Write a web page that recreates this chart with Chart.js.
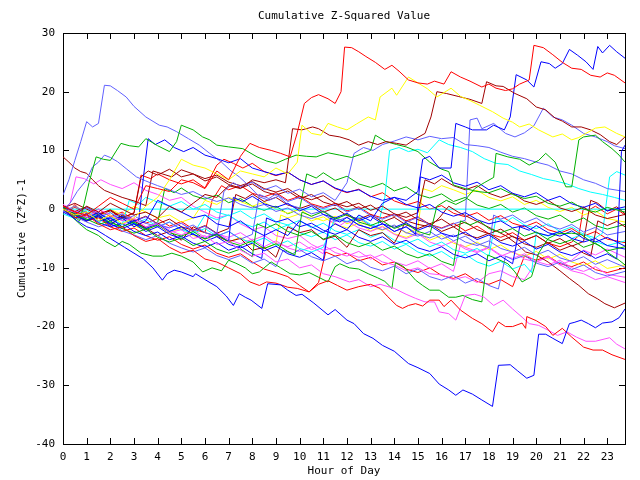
<!DOCTYPE html>
<html>
<head>
<meta charset="utf-8">
<script src="https://cdn.jsdelivr.net/npm/chart.js@4.4.1/dist/chart.umd.min.js"></script>
<style>
html,body{margin:0;padding:0;background:#fff;}
#wrap{width:640px;height:480px;}
</style>
</head>
<body>
<div id="wrap"><canvas id="c" width="640" height="480"></canvas></div>
<script>
// ---- labels ----
const chartTitle = "Cumulative Z-Squared Value";
const xTitle = "Hour of Day";
const yTitle = "Cumulative (Z*Z)-1";
const xTicks = [0,1,2,3,4,5,6,7,8,9,10,11,12,13,14,15,16,17,18,19,20,21,22,23];
const yTicks = [-40,-30,-20,-10,0,10,20,30];
const xMax = 23.75;

// ---- series: [hour, cumulative value] ----
const redTop = [[0,0.5],[0.5,-0.5],[1,-1],[1.5,0.5],[2,2],[2.5,1],[3,0],[3.5,4],[4,3.5],[4.5,3],[5,5],[5.5,4.5],[6,3.5],[6.5,6.5],[7,5],[7.5,9],[7.9,11.2],[8.3,10.5],[8.8,10],[9.2,9.5],[9.6,8.9],[9.9,13],[10.2,18],[10.5,19],[10.8,19.5],[11.2,18.8],[11.5,18],[11.75,20],[11.9,27.6],[12.2,27.5],[12.5,26.8],[12.8,26],[13.2,25],[13.6,23.8],[13.9,24.5],[14.2,23.5],[14.6,22],[15,21.5],[15.4,21.3],[15.7,21.8],[16.1,21.3],[16.4,23.4],[16.8,22.5],[17.2,21.8],[17.7,20.8],[18,21.3],[18.3,20.6],[18.7,20.2],[19,20.5],[19.3,21.3],[19.7,22],[19.9,27.9],[20.3,27.5],[20.7,26.3],[21.1,25],[21.5,24],[21.9,23.8],[22.3,22.8],[22.7,22.5],[23,23.2],[23.3,22.8],[23.75,21.5]];
const yellowTop = [[0,0],[0.5,-1],[1,-0.5],[1.5,-2],[2,-1],[2.5,-2.5],[3,-1.5],[3.5,0.5],[4,2],[4.5,5],[5,8.5],[5.5,7.5],[6,7],[6.5,6],[7,5],[7.5,6.5],[8,6],[8.5,5.5],[9,7],[9.5,6],[9.9,8],[10.1,14.3],[10.5,12.9],[10.9,12.6],[11.2,14.6],[11.6,14],[12,13.5],[12.4,14.5],[12.9,15.7],[13.2,15.2],[13.4,19.1],[13.9,20.6],[14.1,19.4],[14.6,22.5],[15,21.5],[15.4,20.5],[15.8,19.1],[16,19.6],[16.4,20.6],[16.8,19.2],[17.2,18.5],[17.6,17.7],[18.15,16.6],[18.6,15.5],[19,14.8],[19.3,14],[19.7,14.5],[20.1,13.5],[20.7,12.3],[21.1,12.8],[21.5,11.8],[21.8,12.2],[22.1,12.9],[22.5,13.8],[22.9,14],[23.4,12.9],[23.75,12.3]];
const darkRedTop = [[0,0],[0.5,-1],[1,0.5],[1.5,-0.5],[2,1],[2.5,0],[3,-1],[3.5,-0.5],[4,-1.5],[4.5,0.5],[5,-0.5],[5.5,1],[6,2.5],[6.5,2],[7,4],[7.5,3.5],[8,5],[8.5,4.5],[9,5],[9.4,4.5],[9.7,13.7],[10.1,13.5],[10.55,14],[10.8,13.7],[11.25,12.6],[11.7,12.3],[12.1,11.8],[12.5,10.9],[12.9,11.5],[13.3,11],[13.65,11.5],[14.1,11.2],[14.5,10.9],[14.9,12],[15.3,12.9],[15.55,15.7],[15.8,20],[16.2,19.7],[16.7,19.2],[17.2,18.7],[17.7,18],[17.9,21.7],[18.3,21],[18.6,20.9],[19.1,19.7],[19.6,18.8],[20,17.4],[20.4,16.9],[20.8,15.5],[21.1,15],[21.5,14],[21.9,14],[22.3,13.5],[22.7,12.7],[23.1,11.5],[23.4,11],[23.75,12.3]];
const blueTop = [[0,0],[0.5,-1],[1,-2],[1.5,-1],[2,-2.5],[2.5,-1.5],[3,-3],[3.5,-2],[4,1.5],[4.5,0.5],[5,-0.5],[5.5,-1.5],[6,-1],[6.5,-2.5],[7,-3],[7.5,-2],[8,-3.5],[8.5,-4.5],[9,-3.5],[9.5,-4.5],[10,-2],[10.5,-3],[11,-4],[11.5,-2.5],[12,-3.5],[12.5,-1],[13,-2],[13.5,1],[14,2],[14.5,1.5],[15,3],[15.2,8.5],[15.5,9],[15.9,7],[16.4,7],[16.6,14.6],[17,14],[17.3,13.5],[17.9,13.5],[18.2,14.3],[18.65,13.5],[18.9,15.7],[19.15,22.9],[19.6,22],[19.9,20.8],[20.2,25.1],[20.55,24.8],[20.8,24],[21.1,24.8],[21.4,27.2],[21.75,26.2],[22.1,25.1],[22.4,23.8],[22.6,27.7],[22.8,26.6],[23.1,27.9],[23.4,26.8],[23.75,25.7]];
const blueBottom = [[0,0],[0.3,-1],[0.6,-2],[1,-3],[1.4,-3.5],[1.8,-4.5],[2.2,-5.5],[2.6,-6.5],[3,-7.5],[3.4,-8.5],[3.8,-10],[4.2,-12.1],[4.4,-11],[4.7,-10.4],[5,-10.7],[5.5,-11.5],[5.6,-11],[6,-12],[6.5,-13.2],[6.9,-14.8],[7.2,-16.4],[7.45,-14.4],[7.7,-15],[7.95,-15.5],[8.4,-16.9],[8.65,-12.7],[9.2,-12.9],[9.5,-13.8],[9.85,-14.7],[10.1,-14.5],[10.6,-16],[11.2,-18],[11.5,-17.1],[12,-18.9],[12.3,-19.5],[12.7,-21.2],[13.1,-22],[13.5,-23.2],[14,-24.2],[14.6,-26.3],[15,-27],[15.5,-28],[15.9,-29.8],[16.3,-30.8],[16.6,-31.7],[16.9,-30.8],[17.3,-31.5],[17.7,-32.5],[18.15,-33.6],[18.4,-26.6],[18.9,-26.5],[19.2,-27.5],[19.6,-28.8],[19.9,-28.3],[20.1,-21.3],[20.4,-21.3],[20.7,-22],[21.1,-22.9],[21.4,-19.5],[21.6,-19.3],[21.9,-18.9],[22.2,-19.5],[22.5,-20.2],[22.8,-19.4],[23.2,-19.2],[23.5,-18.5],[23.75,-17]];
const redBottom = [[0,0],[0.5,-1.5],[1,-1],[1.5,-2.5],[2,-3.5],[2.5,-3],[3,-4.5],[3.5,-5.5],[4,-5],[4.5,-6.5],[5,-7.5],[5.5,-7],[6,-8.5],[6.5,-9],[7,-10],[7.5,-11],[7.9,-12.4],[8.3,-13],[8.6,-12.4],[9,-12.6],[9.5,-13.3],[9.9,-13.5],[10.4,-14.1],[10.8,-12.8],[11.2,-12.2],[11.6,-13],[12,-13.8],[12.5,-13.2],[13,-12.8],[13.4,-13.5],[13.7,-14.8],[14.1,-16.4],[14.35,-16.9],[14.6,-16.4],[14.9,-16.1],[15.2,-16.5],[15.5,-15.5],[15.9,-15.5],[16.1,-16.6],[16.4,-15.5],[16.8,-17.2],[17.3,-18.6],[17.7,-19.5],[18.15,-20.9],[18.4,-19.2],[18.7,-20],[19,-20],[19.4,-19.4],[19.55,-20.3],[19.6,-18.3],[20,-19],[20.4,-20],[20.7,-21.5],[21.1,-20.3],[21.5,-21.8],[22,-23.5],[22.4,-24],[22.8,-24],[23.2,-24.8],[23.75,-25.6]];
const magentaBottom = [[0,0],[0.5,-0.5],[1,-1.5],[1.5,0],[2,-1],[2.5,-2],[3,-1.5],[3.5,-3],[4,-2.5],[4.5,-4],[5,-3.5],[5.5,-5],[6,-4.5],[6.5,-6],[7,-5.5],[7.5,-7],[8,-8],[8.5,-7.5],[9,-9],[9.5,-8.5],[10,-10],[10.5,-9.5],[11,-11],[11.5,-11.5],[12.1,-12.4],[12.5,-12],[13,-13.2],[13.4,-12.8],[14,-13.5],[14.5,-14.5],[14.9,-15.2],[15.3,-15.8],[15.7,-15.8],[15.9,-17.5],[16.3,-17.8],[16.6,-18.9],[17,-14.7],[17.4,-14.5],[17.8,-15],[18.2,-16.4],[18.6,-15.5],[19,-17],[19.4,-18.4],[19.7,-19.5],[20.1,-19.8],[20.5,-20.6],[20.9,-21.5],[21.3,-20.9],[21.7,-21.8],[22.1,-22.5],[22.5,-22.5],[23.1,-21.9],[23.4,-23],[23.75,-23.8]];
const greenLow = [[0,0],[0.3,-1],[0.7,-2.5],[1,-3.5],[1.5,-4.5],[1.8,-5.5],[2.2,-6.4],[2.5,-5.5],[2.8,-6],[3.3,-7.5],[3.8,-8],[4.2,-8],[4.6,-7.5],[5,-8],[5.5,-9],[5.9,-10.7],[6.3,-10],[6.7,-10.5],[7,-8.7],[7.3,-9.2],[7.7,-10],[8,-11],[8.3,-10.7],[8.5,-10],[8.8,-9],[9.2,-10],[9.6,-11],[10,-11.2],[10.4,-10.8],[10.8,-11.6],[11.2,-12.4],[11.5,-9.8],[11.7,-9.3],[12.1,-10],[12.5,-10.2],[12.9,-11],[13.3,-11.7],[13.6,-12.3],[13.9,-13.5],[14.05,-9.1],[14.4,-9.8],[14.9,-12.1],[15.2,-13],[15.5,-13.8],[15.9,-13.8],[16.3,-15],[16.6,-15],[16.9,-14.7],[17.3,-15.4],[17.7,-15.8],[17.95,-7.8],[18.3,-8.4],[18.8,-9.3],[19.1,-10.7],[19.4,-12.4],[19.8,-11.5],[20.1,-7.5],[20.5,-5],[20.9,-4.2],[21.5,-4.1],[21.9,-4.3],[22.3,-5.5],[22.7,-6.3],[23.1,-7.6],[23.5,-8.7],[23.75,-9.5]];
const greenMid = [[0,0.5],[0.4,-1],[0.7,-2],[0.9,1],[1.1,4.5],[1.4,8.9],[1.7,8.5],[2,8.3],[2.45,11.2],[2.8,10.8],[3.2,10.6],[3.5,12],[4,10.8],[4.5,9.8],[4.8,11.5],[5,14.3],[5.5,13.5],[5.9,12.3],[6.2,11.8],[6.5,10.9],[7,10.6],[7.6,10.3],[8.2,8.9],[8.6,8.2],[9,7.8],[9.4,8.5],[9.85,9.2],[10.3,9],[10.7,8.9],[11.2,9.6],[11.7,9.2],[12.2,8.8],[12.7,9.5],[13,10],[13.2,12.6],[13.65,11.5],[14.1,11],[14.5,10.6],[15,9.8],[15.5,8],[16,6.8],[16.3,6.4],[16.5,4.1],[17,3.5],[17.5,3],[18,2.8],[18.5,3.5],[19,2.5],[19.5,1.8],[20,2.2],[20.5,1],[21,0.5],[21.5,1.2],[22,0],[22.5,-0.5],[23,0.3],[23.75,-0.5]];
const greenLate = [[0,0],[0.5,-1],[1,-1.8],[1.5,-1],[2,-2.3],[2.5,-3],[3,-2.2],[3.5,-3.5],[4,-2.7],[4.5,-4],[5,-4.6],[5.5,-3.8],[6,-5.1],[6.5,-4.3],[7,-5.6],[7.5,-6.2],[8,-5.4],[8.5,-6.7],[9,-5.9],[9.5,-7.2],[9.8,-7.8],[10.1,-0.5],[10.5,-1.2],[11,-0.4],[11.5,-1.7],[12,-0.9],[12.5,-2.2],[13,-2.8],[13.5,-2],[14,-3.3],[14.5,-2.5],[15,-3.8],[15.5,-4.4],[15.8,0.5],[16.2,1.5],[16.6,0.8],[17,1.6],[17.4,3.5],[17.8,4.5],[18.2,5.4],[18.3,9.5],[18.8,8.9],[19.3,8.5],[19.7,7.5],[20.1,8.3],[20.4,9.5],[20.8,8],[21.25,3.8],[21.5,3.8],[21.8,11.8],[22,12.3],[22.5,12.6],[22.8,11.5],[23.2,10.3],[23.5,9.2],[23.75,8]];
const greenDip = [[0,0.2],[0.5,-0.8],[1,-1.7],[1.5,-2.6],[2,-2],[2.5,-3.3],[3,-4.1],[3.5,-3.4],[4,-4.8],[4.5,-5.6],[5,-4.9],[5.5,-6.2],[6,-5.5],[6.5,-6.8],[7,-7.5],[7.5,-6.8],[8,-8.1],[8.2,-2.5],[8.6,-3.2],[9,-2.5],[9.5,-3.8],[10,-4.5],[10.5,-3.8],[11,-5.1],[11.5,-4.4],[12,-5.7],[12.5,-6.4],[13,-5.7],[13.5,-7],[14,-6.3],[14.5,-7.6],[15,-8.3],[15.5,-7.6],[16,-8.9],[16.5,-9.6],[16.8,-2],[17.2,-2.7],[17.6,-2],[18,-3.3],[18.5,-4],[19,-3.3],[19.5,-4.6],[20,-3.9],[20.5,-5.2],[21,-5.9],[21.5,-5.2],[22,-6.5],[22.5,-5.8],[23,-7.1],[23.75,-6.4]];
const blueEnd = [[0,0.3],[0.5,-0.8],[1,-1.5],[1.5,-0.6],[2,-2],[2.5,-1.2],[3,-2.5],[3.5,-3.3],[4,-2.5],[4.5,-3.8],[5,-3],[5.5,-4.3],[6,-5],[6.5,-4.2],[7,-5.5],[7.2,2],[7.6,1.3],[8,2.2],[8.5,0.9],[9,0.3],[9.5,1],[10,-0.3],[10.5,0.5],[11,-0.9],[11.5,-1.5],[12,-0.7],[12.5,-2],[13,-1.2],[13.5,-2.5],[14,-3.1],[14.5,-2.3],[15,-3.6],[15.5,-2.8],[16,-4.1],[16.5,-4.7],[17,-3.9],[17.5,-5.2],[18,-4.4],[18.5,-5.7],[19,-6.3],[19.5,-5.5],[20,-6.8],[20.5,-6],[21,-7.3],[21.5,-7.9],[22,-7.1],[22.5,-8.4],[23,-7.6],[23.4,-8.5],[23.6,9.8],[23.75,10.9]];
const blueMid = [[0,0],[0.5,-1],[1,-2],[1.5,-1.2],[2,-2.6],[2.5,-3.3],[3,-2.5],[3.5,-3.8],[4,-3],[4.5,-4.3],[5,-5],[5.5,-4.2],[6,-5.5],[6.5,-4.7],[7,-6],[7.5,-6.6],[8,-5.8],[8.5,-7.1],[9,-6.3],[9.5,-7.6],[10,-8.2],[10.5,-7.4],[11,-8.7],[11.3,-1.5],[11.7,-2.2],[12,-1.4],[12.5,-2.7],[13,-3.3],[13.5,-2.5],[14,-3.8],[14.5,-3],[14.9,-4.3],[15.1,5.5],[15.5,5],[16,5.8],[16.5,4.5],[17,3.9],[17.5,4.6],[18,3.3],[18.5,4],[19,2.7],[19.5,2.1],[20,2.8],[20.5,1.5],[21,2.2],[21.5,0.9],[22,0.3],[22.5,1],[23,-0.3],[23.75,0.4]];
const blueJump = [[0,0.5],[0.5,-1],[1,-0.5],[1.5,-2],[2,-1.5],[2.5,-3],[3,-2],[3.2,-1.9],[3.4,5.5],[3.6,12],[3.9,11],[4.3,11.8],[4.7,10.5],[5.1,9.8],[5.5,10.5],[6,9.2],[6.5,8.6],[7,7.9],[7.5,8.6],[8,7],[8.5,6.4],[9,5.8],[9.5,6.3],[10,5],[10.5,4.2],[11,4.8],[11.5,3.6],[12,2.9],[12.5,3.3],[13,2.2],[13.5,1.5],[14,2],[14.5,0.8],[15,0.2],[15.5,0.8],[16,-0.5],[16.5,-1.2],[17,-0.6],[17.5,-1.8],[18,-2.5],[18.5,-2],[19,-3.2],[19.5,-2.8],[20,-4],[20.5,-4.5],[21,-3.8],[21.5,-5],[22,-5.6],[22.5,-5],[23,-6.2],[23.75,-6.8]];
const blueLow = [[0,-0.5],[0.5,-1.5],[1,-0.8],[1.5,-2.3],[2,-3],[2.5,-2.4],[3,-3.8],[3.5,-4.5],[4,-3.9],[4.5,-5.2],[5,-4.6],[5.5,-5.8],[6,-6.5],[6.5,-5.7],[7,-7],[7.5,-6.3],[8,-7.6],[8.4,-8.4],[8.6,-1.5],[9,-2.2],[9.5,-1.6],[10,-3],[10.5,-2.4],[11,-3.6],[11.5,-4.3],[12,-3.5],[12.5,-4.8],[13,-5.5],[13.5,-4.7],[14,-6],[14.5,-5.3],[15,-6.6],[15.5,-7.2],[16,-6.4],[16.5,-7.7],[17,-8.3],[17.5,-7.6],[18,-8.8],[18.5,-8],[19,-9.3],[19.3,-3],[19.7,-3.6],[20,-2.8],[20.5,-4],[21,-4.6],[21.5,-3.7],[22,-5],[22.5,-5.6],[23,-4.8],[23.75,-6.3]];
const slatePeak = [[0,2.4],[0.25,5],[0.5,8.3],[0.75,11.5],[1,14.9],[1.25,14],[1.5,14.6],[1.75,21.1],[2,21],[2.3,20.2],[2.67,19.1],[3,17.5],[3.5,15.7],[4.07,14.3],[4.4,14],[4.8,13.2],[5.3,12],[5.76,10.9],[6.2,9.5],[6.7,8],[7.1,6.5],[7.45,5.5],[7.9,3.8],[8.3,2.1],[8.7,1.5],[9.1,2.2],[9.5,0.8],[10,0.2],[10.5,-0.8],[11,-0.3],[11.5,-1.6],[12,-2.2],[12.5,-1.5],[13,-2.8],[13.5,-3.5],[14,-2.7],[14.5,-4],[15,-4.6],[15.5,-3.8],[16,-5.1],[16.5,-4.4],[17,-5.6],[17.5,-6.2],[18,-5.4],[18.5,-6.7],[19,-7.3],[19.5,-6.5],[20,-7.8],[20.5,-7],[21,-8.3],[21.5,-8.9],[22,-8.1],[22.5,-9.4],[23,-8.6],[23.75,-9.9]];
const slateNine = [[0,-0.2],[0.3,1],[0.6,3],[1,5],[1.25,7.2],[1.5,8],[1.75,9.2],[2,8.8],[2.3,8.1],[2.7,6.8],[3.1,5.5],[3.5,4.8],[4,4],[4.5,3.3],[5,2.5],[5.5,3],[6,2],[6.5,1.3],[7,1.9],[7.5,0.8],[8,0.2],[8.5,0.8],[9,-0.4],[9.5,0.2],[10,-1],[10.5,-1.6],[11,-0.9],[11.5,-2.1],[12,-1.4],[12.5,-2.7],[13,-3.3],[13.5,-2.5],[14,-3.8],[14.5,-3],[15,-4.3],[15.5,-4.9],[16,-4.1],[16.5,-5.4],[17,-4.6],[17.5,-5.9],[18,-6.5],[18.2,-1],[18.5,-1.7],[19,-1],[19.5,-2.3],[20,-1.5],[20.5,-2.8],[21,-3.4],[21.5,-2.6],[22,-3.9],[22.5,-3.1],[23,-4.4],[23.75,-3.8]];
const slateJump = [[0,-0.4],[0.5,0.5],[1,-0.6],[1.5,-1.4],[2,-0.6],[2.5,-1.9],[3,-1.1],[3.5,-2.4],[4,-3],[4.5,-2.2],[5,-3.5],[5.5,-2.7],[6,-4],[6.5,-4.6],[7,-3.8],[7.5,-5.1],[8,-4.3],[8.3,2.5],[8.7,1.8],[9,2.6],[9.5,1.3],[10,2],[10.5,0.7],[11,0.1],[11.5,0.8],[12,-0.5],[12.5,0.2],[13,-1.1],[13.5,-1.7],[14,-0.9],[14.5,-2.2],[15,-1.4],[15.5,-2.7],[16,-3.3],[16.5,-2.5],[17,-1.9],[17.2,15.2],[17.5,15.5],[17.7,13.7],[18.2,14.6],[18.7,12.9],[19.1,12.3],[19.5,13],[19.9,14.2],[20.3,17.2],[20.7,15.7],[21.1,15.2],[21.5,14.3],[22,12.9],[22.5,12.3],[23,11.5],[23.3,10.8],[23.75,10.3]];
const slateTwelve = [[0,0.2],[0.5,-0.7],[1,0.3],[1.5,-0.9],[2,-1.6],[2.5,-0.8],[3,-2.1],[3.5,-1.3],[4,-2.6],[4.5,-3.2],[5,-2.4],[5.5,-3.7],[6,-2.9],[6.5,-4.2],[6.8,3],[7.2,4.5],[7.5,3.8],[8,4.6],[8.5,3.3],[9,4],[9.5,2.7],[10,3.4],[10.5,2.1],[11,2.8],[11.5,1.5],[12,4.5],[12.3,9.5],[12.7,10.5],[13.1,10],[13.5,11],[14,11.6],[14.5,12.3],[15,11.8],[15.5,12.4],[16,12],[16.5,12.2],[17,11],[17.5,10.8],[18,10.5],[18.5,9.7],[19,9],[19.5,8.6],[20,8],[20.5,7.5],[21,6.5],[21.5,6],[22,5],[22.5,4.4],[23,3.5],[23.75,3]];
const slateLow = [[0,-0.3],[0.5,-1.3],[1,-2.2],[1.5,-3],[2,-2.4],[2.5,-3.7],[3,-4.4],[3.5,-5.2],[4,-4.5],[4.5,-5.8],[5,-6.6],[5.5,-7.3],[6,-6.6],[6.5,-7.9],[7,-8.6],[7.5,-7.9],[8,-9.2],[8.5,-8.5],[9,-9.8],[9.3,-7],[9.7,-7.6],[10,-6.9],[10.5,-8.1],[11,-8.8],[11.5,-8],[12,-9.3],[12.5,-8.6],[13,-9.9],[13.5,-10.5],[14,-9.7],[14.5,-11],[15,-10.2],[15.5,-11.5],[16,-12.1],[16.5,-11.3],[17,-12.6],[17.5,-11.8],[18,-13],[18.4,-13.6],[18.7,-8],[19,-8.6],[19.5,-7.9],[20,-9.2],[20.5,-9.8],[21,-9],[21.5,-10.3],[22,-9.5],[22.5,-10.8],[23,-11.4],[23.75,-10.6]];
const darkRedNine = [[0,8.9],[0.25,8],[0.5,7],[0.75,6.4],[1,6.1],[1.25,5],[1.5,4],[1.75,3.2],[2,2.8],[2.5,2],[3,1.4],[3.5,0.6],[3.8,6.5],[4.2,6],[4.6,5.5],[5,6.7],[5.5,6],[6,5.2],[6.5,5.8],[7,4.6],[7.5,4],[8,4.7],[8.5,3.5],[9,2.9],[9.5,3.5],[10,2.2],[10.5,1.6],[11,2.3],[11.5,1],[12,0.4],[12.5,1],[13,-0.2],[13.5,0.5],[14,-0.8],[14.5,-1.4],[15,-0.6],[15.3,5],[15.7,4.3],[16,5.2],[16.5,4],[17,3.3],[17.5,4],[18,2.7],[18.5,2],[19,2.7],[19.5,1.4],[20,0.8],[20.5,1.5],[21,0.2],[21.5,-0.4],[22,0.3],[22.5,-1],[23,-1.6],[23.75,-0.9]];
const darkRedLow = [[0,0],[0.5,-1],[1,-2],[1.5,-1.3],[2,-2.8],[2.5,-1],[3,-2],[3.5,-3.2],[4,-4.5],[4.5,-3.8],[5,-5.3],[5.5,-3],[6,-4],[6.5,-4.6],[7,-5.5],[7.5,-5],[8,-7],[8.5,-6.5],[9,-8.2],[9.5,-3],[10,-4],[10.5,-3.5],[11,-5.2],[11.5,-4.6],[12,-6.5],[12.5,-3.5],[13,-4.5],[13.5,-4],[14,-5.8],[14.5,-2],[15,-2.6],[15.5,-3],[15.9,-1.5],[16.3,0.5],[16.7,-0.5],[17.2,-1.5],[17.7,-2.5],[18.2,-3.5],[18.7,-4.5],[19.2,-6],[19.55,-7.3],[20,-7.8],[20.5,-9],[21,-10.5],[21.4,-11.8],[21.8,-13],[22.2,-14.4],[22.6,-15.3],[22.9,-16.1],[23.3,-16.8],[23.75,-16]];
const darkRedMid = [[0,0.2],[0.5,1],[1,0],[1.5,-1],[2,-0.3],[2.5,-1.5],[3,-0.7],[3.3,5.5],[3.6,6.5],[4,5.8],[4.5,6.8],[5,5.5],[5.5,6],[6,4.8],[6.5,5.5],[7,4.2],[7.5,3.6],[8,4.3],[8.5,3],[9,2.4],[9.5,3.1],[10,1.8],[10.5,2.5],[11,1.2],[11.5,0.6],[12,1.3],[12.5,0],[13,0.7],[13.5,-0.6],[14,-1.2],[14.5,-0.5],[15,-1.8],[15.5,-2.5],[16,-1.7],[16.5,-3],[17,-2.2],[17.5,-3.5],[18,-4.2],[18.5,-3.4],[19,-4.7],[19.5,-5.3],[20,-4.5],[20.5,-5.8],[21,-5],[21.5,-6.3],[22,-5.5],[22.3,1.5],[22.6,1],[23,-0.3],[23.4,0.4],[23.75,-0.8]];
const darkRedLate = [[0,0.6],[0.5,-0.4],[1,0.4],[1.5,-0.9],[2,-0.1],[2.5,-1.4],[3,-2],[3.5,-1.2],[4,-2.5],[4.5,-1.7],[5,-3],[5.5,-3.6],[6,-2.8],[6.5,-4.1],[7,-3.3],[7.3,2.5],[7.7,1.8],[8,2.6],[8.5,1.3],[9,2],[9.5,0.7],[10,0.1],[10.5,0.8],[11,-0.5],[11.5,0.2],[12,-1.1],[12.5,-1.7],[13,-0.9],[13.5,-2.2],[14,-1.4],[14.5,-2.7],[15,-3.3],[15.5,-2.5],[16,-3.8],[16.5,-3],[17,-4.3],[17.5,-4.9],[18,-4.1],[18.5,-5.4],[19,-4.6],[19.5,-5.9],[20,-6.5],[20.5,-5.7],[21,-7],[21.5,-6.2],[22,-7.5],[22.3,-8],[22.6,-2],[23,-2.8],[23.4,-2.1],[23.75,-3]];
const cyanHigh = [[0,0],[0.5,-0.9],[1,-0.2],[1.5,-1.4],[2,-0.6],[2.5,-1.9],[3,-2.5],[3.5,-1.7],[4,-3],[4.5,-2.2],[5,-3.5],[5.5,-4.1],[6,-3.3],[6.5,-4.6],[7,-3.8],[7.5,-5.1],[8,-5.7],[8.5,-4.9],[9,-6.2],[9.5,-5.4],[10,-6.7],[10.5,-7.3],[11,-6.5],[11.5,-1.5],[12,-2.1],[12.5,-1.3],[13,-2.6],[13.3,-3],[13.6,2],[13.8,10],[14.2,10.5],[14.6,9.8],[15,10.2],[15.4,9.6],[15.9,11.8],[16.3,11],[16.8,10.5],[17.3,9.8],[17.8,8.6],[18.3,7.8],[18.8,7.6],[19.3,6.5],[19.8,5.9],[20.3,5.2],[20.8,4.8],[21.3,4.3],[21.8,3.5],[22.3,2.9],[22.8,2.5],[23.3,2],[23.75,1.5]];
const cyanLow = [[0,0.3],[0.5,-0.8],[1,-1.5],[1.5,-0.7],[2,-2],[2.5,-1.2],[3,-2.6],[3.5,-3.3],[4,-2.4],[4.5,-3.8],[5,-3],[5.5,-4.3],[6,-1],[6.5,-1.8],[7,-1],[7.5,-2.3],[8,-3],[8.5,-2.2],[9,-3.5],[9.5,-2.7],[10,-4],[10.5,-4.7],[11,-3.9],[11.5,-5.2],[12,-4.4],[12.5,-5.7],[13,-6.3],[13.5,-5.5],[14,-6.8],[14.5,-6],[15,-7.3],[15.5,-8],[16,-7.2],[16.5,-8.5],[17,-7.7],[17.5,-9],[18,-9.7],[18.5,-8.9],[19,-10.2],[19.5,-9.4],[19.8,-10.8],[20,-4],[20.5,-4.6],[21,-3.8],[21.5,-5],[22,-4.2],[22.5,-5.5],[23,-6.2],[23.75,-5.4]];
const cyanEnd = [[0,-0.8],[0.5,-1.6],[1,-0.9],[1.5,-2.2],[2,-1.4],[2.5,-2.7],[2.8,1.5],[3.2,0.8],[3.5,2],[4,1.2],[4.5,0.5],[5,1.3],[5.5,0],[6,0.8],[6.5,-0.5],[7,-1.1],[7.5,-0.3],[8,-1.6],[8.5,-0.8],[9,-2.1],[9.5,-2.7],[10,-1.9],[10.5,-3.2],[11,-2.4],[11.5,-3.7],[12,-4.3],[12.5,-3.5],[13,-4.8],[13.5,-4],[14,-5.3],[14.5,-5.9],[15,-5.1],[15.5,-6.4],[16,-5.6],[16.5,-6.9],[17,-7.5],[17.5,-6.7],[18,-8],[18.3,-1.5],[18.7,-2.2],[19,-1.4],[19.5,-2.7],[20,-3.3],[20.5,-2.5],[21,-3.8],[21.5,-3],[22,-4.3],[22.5,-4.9],[22.8,-4.1],[23.1,5.5],[23.4,6.4],[23.75,5.8]];
const cyanZero = [[0,0],[23.75,0]];
const magentaFive = [[0,0],[0.3,1],[0.55,5.5],[0.9,5.2],[1.3,4.3],[1.6,5],[2,4.2],[2.5,3.5],[3,4.5],[3.5,3.2],[4,2.5],[4.5,1.5],[5,2],[5.5,0.5],[6,-0.5],[6.5,-1.5],[7,-1],[7.5,-2.5],[8,-3.5],[8.5,-3],[9,-4.5],[9.5,-5],[10,-4.5],[10.5,-6],[11,-7],[11.5,-6.5],[12,-7.5],[12.5,-8.2],[13,-7.8],[13.5,-9],[14,-9.5],[14.5,-10.5],[15,-10],[15.5,-11],[16,-11.2],[16.5,-12],[17,-11.5],[17.5,-12.5],[18,-11],[18.5,-10.5],[19,-11.5],[19.5,-12],[20,-9],[20.5,-8],[21,-9.5],[21.5,-10.5],[22,-11],[22.5,-12],[23,-11.5],[23.75,-12.5]];
const magentaMid = [[0,0.8],[0.5,-0.3],[1,-1.2],[1.5,-0.4],[2,-1.8],[2.5,-2.6],[3,-1.8],[3.5,-3.2],[4,-2.3],[4.5,-3.6],[5,-4.4],[5.5,-3.5],[6,-4.8],[6.5,-4],[7,-5.2],[7.5,-5.9],[8,-5.1],[8.5,-6.4],[9,-5.4],[9.5,-6.6],[10,-7.2],[10.5,-6.4],[11,-7.6],[11.3,-2],[11.7,-2.8],[12,-2],[12.5,-3.2],[13,-3.8],[13.5,-3],[14,-4.3],[14.5,-5],[15,-4.2],[15.5,-5.6],[16,-6.3],[16.5,-5.5],[17,-6.8],[17.5,-7.4],[18,-6.6],[18.5,-8],[19,-7.2],[19.5,-8.5],[20,-9],[20.5,-8.2],[21,-9.5],[21.5,-8.7],[22,-7],[22.5,-7.8],[23,-6.8],[23.75,-8.2]];
const magentaLow = [[0,0],[0.5,-0.8],[1,0.2],[1.5,-0.9],[2,-1.6],[2.5,-0.8],[3,-2],[3.5,-1.3],[4,-2.6],[4.5,-3.2],[5,-2.4],[5.5,-3.7],[6,-2.9],[6.5,-4.2],[7,-4.8],[7.5,-4],[8,-5.3],[8.5,-4.5],[9,-5.8],[9.5,-6.4],[10,-5.6],[10.5,-6.9],[11,-6.1],[11.5,-7.4],[12,-8],[12.5,-7.2],[13,-8.5],[13.5,-7.7],[14,-9],[14.5,-9.6],[15,-8.8],[15.5,-10.1],[16,-9.3],[16.5,-10.6],[16.8,-6],[17,-6.5],[17.5,-7.2],[18,-6.5],[18.5,-7.8],[19,-8.4],[19.5,-7.6],[20,-8.9],[20.5,-9.5],[21,-8.7],[21.5,-10],[22,-10.6],[22.5,-9.8],[23,-11.1],[23.75,-11.6]];
const yellowMid = [[0,-0.5],[0.5,0.5],[1,-0.5],[1.5,-1.5],[2,0],[2.5,-1],[3,0.5],[3.5,-0.5],[4,-1.5],[4.5,-1],[5,-2.2],[5.5,-1.5],[6,1.5],[6.5,0.8],[7,2],[7.5,1.3],[8,0.5],[8.5,1.2],[9,0],[9.5,-0.7],[10,0],[10.5,-1.3],[11,-2],[11.5,-1.2],[12,-2.5],[12.5,-1.7],[13,-3],[13.5,-3.6],[14,-2.8],[14.5,-4.1],[15,-3.3],[15.2,3.5],[15.6,3],[16,4],[16.5,3.3],[17,2.5],[17.5,3.2],[18,2],[18.5,1.4],[19,2.1],[19.5,0.8],[20,1.5],[20.5,0.3],[21,-0.4],[21.5,0.3],[22,-1],[22.5,-0.3],[23,-1.6],[23.75,-2.2]];
const yellowLow = [[0,-0.2],[0.5,-1.1],[1,-1.9],[1.5,-1.1],[2,-2.4],[2.5,-1.6],[3,-2.9],[3.5,-3.5],[4,-2.7],[4.5,-4],[5,-3.2],[5.5,-4.5],[6,-5.1],[6.5,-4.3],[7,-5.6],[7.5,-4.8],[8,-6.1],[8.5,-6.7],[9,-5.9],[9.2,-1],[9.5,-1.5],[10,-0.8],[10.5,-2],[11,-1.3],[11.5,-2.6],[12,-3.2],[12.5,-2.4],[13,-3.7],[13.5,-2.9],[14,-4.2],[14.5,-4.8],[15,-4],[15.5,-5.3],[16,-4.5],[16.5,-5.8],[17,-6.4],[17.5,-5.6],[18,-6.9],[18.5,-6.1],[19,-7.4],[19.5,-8],[20,-7.2],[20.5,-8.5],[21,-7.7],[21.5,-9],[22,-9.6],[22.5,-8.8],[23,-10.1],[23.75,-9.5]];
const greenMidLow = [[0,0.4],[0.5,-0.6],[1,-1.4],[1.5,-0.6],[2,-1.9],[2.5,-1.1],[3,-2.4],[3.5,-3.1],[4,-2.3],[4.3,3.5],[4.7,2.8],[5,3.6],[5.5,2.3],[6,1.7],[6.5,2.4],[7,1.1],[7.5,1.8],[8,0.5],[8.5,-0.2],[9,0.5],[9.5,-0.8],[10,0],[10.3,6],[10.7,5.3],[11,6.2],[11.5,4.9],[12,5.6],[12.5,4.3],[13,3.7],[13.5,4.4],[14,3.1],[14.5,3.8],[15,2.5],[15.5,1.9],[16,2.6],[16.5,1.3],[17,2],[17.5,0.7],[18,0.1],[18.5,0.8],[19,-0.5],[19.5,0.2],[20,-1.1],[20.5,-1.7],[21,-1],[21.5,-2.3],[22,-1.5],[22.5,-2.8],[23,-3.4],[23.75,-2.6]];
const redMid = [[0,-0.6],[0.5,0.3],[1,-0.8],[1.5,0],[2,-1.3],[2.5,-0.5],[3,-1.8],[3.5,-2.4],[4,-1.6],[4.5,-2.9],[5,-2.1],[5.5,-3.4],[6,-4],[6.3,1.5],[6.7,4],[7,3.3],[7.5,4],[8,2.7],[8.5,2.1],[9,2.8],[9.5,1.5],[10,2.2],[10.5,0.9],[11,0.3],[11.5,1],[12,-0.3],[12.5,0.4],[13,-0.9],[13.5,-1.5],[14,-0.8],[14.5,-2],[15,-1.3],[15.5,-2.6],[16,-3.2],[16.5,-2.4],[17,-3.7],[17.5,-2.9],[18,-4.2],[18.5,-4.8],[19,-4],[19.5,-5.3],[20,-4.5],[20.5,-5.8],[21,-6.4],[21.5,-5.6],[21.8,-4.5],[22,0.4],[22.2,-0.2],[22.5,0.5],[23,-0.8],[23.4,0],[23.75,-1]];
const redUpper = [[0,0.5],[0.25,-0.5],[0.5,0.8],[0.75,-0.3],[1,0.3],[1.5,-0.8],[2,-0.2],[2.5,-1.5],[3,-0.6],[3.3,5.8],[3.7,5.2],[4,6],[4.5,5],[5,4.3],[5.5,5],[6,3.6],[6.5,7.5],[6.8,8.5],[7.2,7.8],[7.6,7],[8,7.8],[8.5,6.4],[9,5.7],[9.5,6.3],[10,5],[10.5,4.2],[11,4.8],[11.5,3.5],[12,2.8],[12.5,3.4],[13,2.1],[13.5,2.8],[14,1.4],[14.5,0.7],[15,1.3],[15.5,0],[16,0.6],[16.5,-0.7],[17,-1.3],[17.5,-0.6],[18,-1.9],[18.5,-1.1],[19,-2.4],[19.5,-3],[20,-2.2],[20.5,-3.5],[21,-4.1],[21.5,-3.3],[22,-4.6],[22.5,-3.8],[23,-5.1],[23.75,-5.7]];
const redLower = [[0,0],[0.5,-1],[1,-2],[1.5,-1.5],[2,-3],[2.5,-3.8],[3,-3.2],[3.5,-4.5],[4,-5.3],[4.5,-4.7],[5,-6],[5.5,-6.8],[6,-6.1],[6.5,-7.5],[7,-8.2],[7.5,-7.6],[8,-9],[8.5,-10.2],[9,-10.8],[9.5,-11.5],[10,-13],[10.4,-14.1],[10.8,-12.5],[11.1,-7.3],[11.5,-8],[12,-7.5],[12.5,-8.8],[13,-8.2],[13.5,-9.5],[14,-9],[14.5,-10.2],[15,-10.8],[15.5,-10],[16,-11.3],[16.5,-11.8],[17,-11],[17.5,-12.3],[18,-12.8],[18.5,-12],[19,-13.2],[19.5,-8],[20,-8.7],[20.5,-8],[21,-9.3],[21.5,-9.8],[22,-9],[22.5,-10.3],[23,-10.8],[23.75,-10]];

// ---- colours per series ----
const RED='#ff0000', GREEN='#00b000', BLUE='#0000ff', MAGENTA='#ff50ff', CYAN='#00ffff', DARKRED='#a00000', YELLOW='#ffff00', SLATE='#6060ff';
const seriesData = [redTop, yellowTop, darkRedTop, blueTop, blueBottom, redBottom, magentaBottom, greenLow, greenMid, greenLate, greenDip, blueEnd, blueMid, blueJump, blueLow, slatePeak, slateNine, slateJump, slateTwelve, slateLow, darkRedNine, darkRedLow, darkRedMid, darkRedLate, cyanHigh, cyanLow, cyanEnd, cyanZero, magentaFive, magentaMid, magentaLow, yellowMid, yellowLow, greenMidLow, redMid, redUpper, redLower];
const seriesColors = [RED, YELLOW, DARKRED, BLUE, BLUE, RED, MAGENTA, GREEN, GREEN, GREEN, GREEN, BLUE, BLUE, BLUE, BLUE, SLATE, SLATE, SLATE, SLATE, SLATE, DARKRED, DARKRED, DARKRED, DARKRED, CYAN, CYAN, CYAN, CYAN, MAGENTA, MAGENTA, MAGENTA, YELLOW, YELLOW, GREEN, RED, RED, RED];

const FONT = '"DejaVu Sans Mono", "Liberation Mono", monospace';

const framePlugin = {
  id: 'frame',
  beforeDatasetsDraw(chart) {
    const {ctx, chartArea: a, scales: {x, y}} = chart;
    ctx.save();
    ctx.strokeStyle = '#000';
    ctx.lineWidth = 1;
    ctx.beginPath();
    xTicks.forEach(v => {
      const p = Math.round(x.getPixelForValue(v)) + 0.5;
      ctx.moveTo(p, a.bottom); ctx.lineTo(p, a.bottom - 6);
      ctx.moveTo(p, a.top); ctx.lineTo(p, a.top + 6);
    });
    yTicks.forEach(v => {
      const p = Math.round(y.getPixelForValue(v)) + 0.5;
      ctx.moveTo(a.left, p); ctx.lineTo(a.left + 6, p);
      ctx.moveTo(a.right, p); ctx.lineTo(a.right - 6, p);
    });
    ctx.stroke();
    ctx.strokeRect(Math.round(a.left) + 0.5, Math.round(a.top) + 0.5, Math.round(a.right - a.left), Math.round(a.bottom - a.top));
    ctx.restore();
  },
  afterDraw(chart) {
    const {ctx, chartArea: a} = chart;
    ctx.save();
    ctx.fillStyle = '#000';
    ctx.font = '11px ' + FONT;
    ctx.textAlign = 'center';
    ctx.textBaseline = 'middle';
    const cx = (a.left + a.right) / 2;
    ctx.fillText(chartTitle, cx, 16);
    ctx.fillText(xTitle, cx, 471);
    ctx.translate(22, (a.top + a.bottom) / 2);
    ctx.rotate(-Math.PI / 2);
    ctx.fillText(yTitle, 0, 0);
    ctx.restore();
  }
};

new Chart(document.getElementById('c'), {
  type: 'line',
  data: {
    datasets: seriesData.map((s, i) => ({
      data: s.map(p => ({x: p[0], y: p[1]})),
      borderColor: seriesColors[i],
      backgroundColor: seriesColors[i],
      borderWidth: 1,
      pointRadius: 0,
      tension: 0,
      fill: false
    }))
  },
  options: {
    responsive: false,
    animation: false,
    devicePixelRatio: 1,
    layout: {padding: {top: 33, right: 15, left: 0, bottom: 0}},
    plugins: {legend: {display: false}, tooltip: {enabled: false}, title: {display: false}},
    scales: {
      x: {
        type: 'linear', min: 0, max: xMax,
        afterBuildTicks: s => { s.ticks = xTicks.map(v => ({value: v})); },
        afterFit: s => { s.height = 36; },
        grid: {display: false, drawTicks: false},
        border: {display: false},
        ticks: {font: {family: FONT, size: 11}, color: '#000', padding: 7, maxRotation: 0, autoSkip: false}
      },
      y: {
        type: 'linear', min: -40, max: 30,
        afterBuildTicks: s => { s.ticks = yTicks.map(v => ({value: v})); },
        afterFit: s => { s.width = 63; },
        grid: {display: false, drawTicks: false},
        border: {display: false},
        ticks: {font: {family: FONT, size: 11}, color: '#000', padding: 8}
      }
    }
  },
  plugins: [framePlugin]
});
</script>
</body>
</html>
